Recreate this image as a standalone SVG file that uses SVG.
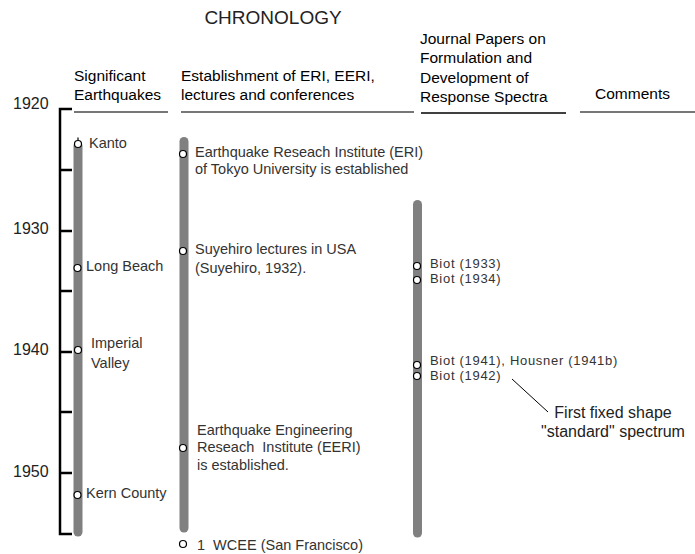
<svg xmlns="http://www.w3.org/2000/svg" width="695" height="554" viewBox="0 0 695 554">
<style>
text{font-family:"Liberation Sans",Arial,sans-serif;}
.title{font-size:19px;fill:#222;}
.hdr{font-size:15.5px;fill:#000;}
.yr{font-size:16px;fill:#222;}
.lbl{font-size:14.5px;fill:#333;}
.bio{font-size:13px;letter-spacing:0.7px;fill:#333;}
.cmt{font-size:16px;fill:#222;text-anchor:middle;}
.bar{stroke:#808080;stroke-width:9;stroke-linecap:round;fill:none;}
.axis{stroke:#000;stroke-width:2.5;fill:none;}
.hl{stroke:#777;stroke-width:2;}
.dot{fill:#fff;stroke:#000;stroke-width:1.2;}
</style>
<rect width="695" height="554" fill="#fff"/>
<text class="title" x="273" y="24" text-anchor="middle">CHRONOLOGY</text>
<g id="headers">
<text class="hdr" x="74" y="81">Significant</text>
<text class="hdr" x="74" y="100">Earthquakes</text>
<line class="hl" x1="74" y1="112" x2="168" y2="112"/>
<text class="hdr" x="181" y="81">Establishment of ERI, EERI,</text>
<text class="hdr" x="181" y="100">lectures and conferences</text>
<line class="hl" x1="181" y1="112" x2="414" y2="112"/>
<text class="hdr" x="420" y="44">Journal Papers on</text>
<text class="hdr" x="420" y="63">Formulation and</text>
<text class="hdr" x="420" y="83">Development of</text>
<text class="hdr" x="420" y="102">Response Spectra</text>
<line x1="421" y1="113" x2="566" y2="113" stroke="#000" stroke-width="1.5"/>
<text class="hdr" x="595" y="99">Comments</text>
<line class="hl" x1="580" y1="112" x2="695" y2="112"/>
</g>
<g id="axis">
<path class="axis" d="M72,109 H60 V534 H72 M60,170 H72 M60,231 H72 M60,291 H72 M60,352 H72 M60,412 H72 M60,473 H72"/>
<text class="yr" x="13" y="109">1920</text>
<text class="yr" x="13" y="234">1930</text>
<text class="yr" x="13" y="355">1940</text>
<text class="yr" x="13" y="477">1950</text>
</g>
<g id="earthquakes">
<line class="bar" x1="78" y1="146" x2="78" y2="532"/>
<line x1="78" y1="137.5" x2="78" y2="140.5" stroke="#000" stroke-width="1.2"/>
<circle class="dot" cx="78" cy="144" r="3.5"/>
<text class="lbl" x="89" y="148">Kanto</text>
<circle class="dot" cx="77.5" cy="268" r="3.5"/>
<text class="lbl" x="86" y="271">Long Beach</text>
<circle class="dot" cx="78" cy="350" r="3.5"/>
<text class="lbl" x="91" y="348">Imperial<tspan x="91" dy="20">Valley</tspan></text>
<circle class="dot" cx="77.5" cy="495" r="3.5"/>
<text class="lbl" x="86" y="498">Kern County</text>
</g>
<g id="institutions">
<line class="bar" x1="184" y1="141.5" x2="184" y2="528"/>
<circle class="dot" cx="183" cy="154" r="3.5"/>
<text class="lbl" x="195" y="157">Earthquake Reseach Institute (ERI)<tspan x="195" dy="17">of Tokyo University is established</tspan></text>
<circle class="dot" cx="183" cy="251" r="3.5"/>
<text class="lbl" x="195" y="254">Suyehiro lectures in USA<tspan x="195" dy="19">(Suyehiro, 1932).</tspan></text>
<circle class="dot" cx="183" cy="448" r="3.5"/>
<text class="lbl" x="197" y="435" xml:space="preserve">Earthquake Engineering<tspan x="197" dy="17">Reseach  Institute (EERI)</tspan><tspan x="197" dy="18">is established.</tspan></text>
<circle class="dot" cx="183" cy="544" r="3.5"/>
<text class="lbl" x="197" y="550" xml:space="preserve">1  WCEE (San Francisco)</text>
</g>
<g id="papers">
<line class="bar" x1="417.5" y1="204.5" x2="417.5" y2="533"/>
<circle class="dot" cx="417" cy="266" r="3.5"/>
<circle class="dot" cx="417" cy="280" r="3.5"/>
<text class="bio" x="430" y="268">Biot (1933)</text>
<text class="bio" x="430" y="283">Biot (1934)</text>
<circle class="dot" cx="417" cy="365" r="3.5"/>
<circle class="dot" cx="417" cy="376" r="3.5"/>
<text class="bio" x="430" y="365">Biot (1941), Housner (1941b)</text>
<text class="bio" x="430" y="380">Biot (1942)</text>
</g>
<g id="connectors">
<line x1="512" y1="379" x2="548" y2="412" stroke="#000" stroke-width="1"/>
</g>
<g id="comment">
<text class="cmt" x="613" y="418">First fixed shape<tspan x="613" dy="19">"standard" spectrum</tspan></text>
</g>
</svg>
